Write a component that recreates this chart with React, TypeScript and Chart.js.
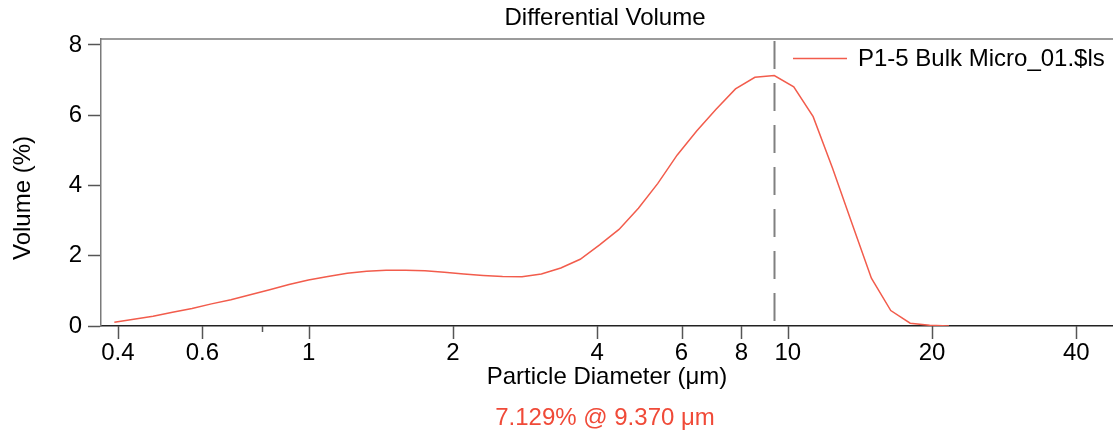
import React, { useEffect, useRef } from 'react';
import { Chart, registerables } from 'chart.js';

Chart.register(...registerables);

// Bin-centre particle diameters (µm)
const diameters = [
  0.3931, 0.4315, 0.4735, 0.5199, 0.5709, 0.6268, 0.6883, 0.7552, 0.8291, 0.91,
  0.9989, 1.0968, 1.2037, 1.3215, 1.4509, 1.5928, 1.7486, 1.9194, 2.1072, 2.313,
  2.5387, 2.787, 3.0597, 3.3589, 3.687, 4.0471, 4.4427, 4.8772, 5.3542, 5.8776,
  6.452, 7.0828, 7.7755, 8.5358, 9.3698, 10.287, 11.293, 12.396, 13.61, 14.939,
  16.397, 18.0, 19.759, 21.691,
];
// Differential volume (%)
const volumes = [
  0.11, 0.19, 0.28, 0.39, 0.5, 0.63, 0.75, 0.89, 1.03, 1.18,
  1.31, 1.41, 1.5, 1.56, 1.59, 1.59, 1.57, 1.53, 1.48, 1.44,
  1.41, 1.4, 1.48, 1.65, 1.9, 2.31, 2.75, 3.35, 4.06, 4.87,
  5.55, 6.17, 6.75, 7.08, 7.129, 6.81, 5.96, 4.49, 2.92, 1.36,
  0.44, 0.08, 0.02, 0.0,
];

const xTickValues = [0.4, 0.6, 0.8, 1, 2, 4, 6, 8, 10, 20, 40];
const xTickLabels = ['0.4', '0.6', '', '1', '2', '4', '6', '8', '10', '20', '40'];
const yTickValues = [0, 2, 4, 6, 8];

const peakDiameter = 9.37;
const peakLabel = '7.129% @ 9.370 μm';
const seriesName = 'P1-5 Bulk Micro_01.$ls';
const chartTitle = 'Differential Volume';
const xTitle = 'Particle Diameter (μm)';
const yTitle = 'Volume (%)';

const FONT = "'Liberation Sans', Arial, sans-serif";
const LINE_COLOR = '#f25c4c';
const RED_TEXT = '#f04a38';

export default function App() {
  const ref = useRef<HTMLCanvasElement | null>(null);

  useEffect(() => {
    const canvas = ref.current;
    if (!canvas) return;

    const overlay = {
      id: 'overlay',
      afterDatasetsDraw(chart: any) {
        const { ctx, chartArea } = chart;
        const xs = chart.scales.x;
        ctx.save();
        const px = Math.round(xs.getPixelForValue(peakDiameter)) + 0.5;
        ctx.strokeStyle = '#808080';
        ctx.lineWidth = 2;
        ctx.setLineDash([28, 14]);
        ctx.beginPath();
        ctx.moveTo(px, chartArea.top + 2);
        ctx.lineTo(px, chartArea.bottom);
        ctx.stroke();
        ctx.setLineDash([]);
        ctx.restore();
      },
      afterDraw(chart: any) {
        const { ctx, chartArea } = chart;
        const xs = chart.scales.x;
        ctx.save();
        // top frame line
        ctx.strokeStyle = '#7a7a7a';
        ctx.lineWidth = 1.5;
        ctx.beginPath();
        ctx.moveTo(chartArea.left, chartArea.top);
        ctx.lineTo(chartArea.right, chartArea.top);
        ctx.stroke();
        // x tick marks
        ctx.strokeStyle = '#555';
        ctx.lineWidth = 1.5;
        xTickValues.forEach((v, i) => {
          const x = Math.round(xs.getPixelForValue(v)) + 0.5;
          const len = xTickLabels[i] === '' ? 6 : 13;
          ctx.beginPath();
          ctx.moveTo(x, chartArea.bottom);
          ctx.lineTo(x, chartArea.bottom + len);
          ctx.stroke();
        });
        const cx = (chartArea.left + chartArea.right) / 2;
        ctx.fillStyle = '#000';
        ctx.textAlign = 'center';
        ctx.textBaseline = 'middle';
        ctx.font = `24px ${FONT}`;
        ctx.fillText(chartTitle, cx - 2, 18);
        ctx.fillStyle = RED_TEXT;
        ctx.fillText(peakLabel, cx - 2, 418);
        ctx.fillStyle = '#000';
        ctx.save();
        ctx.translate(23, 198);
        ctx.rotate(-Math.PI / 2);
        ctx.fillText(yTitle, 0, 0);
        ctx.restore();
        // legend
        ctx.strokeStyle = LINE_COLOR;
        ctx.lineWidth = 1.5;
        ctx.beginPath();
        ctx.moveTo(793, 58.5);
        ctx.lineTo(847, 58.5);
        ctx.stroke();
        ctx.textAlign = 'left';
        ctx.fillStyle = '#000';
        ctx.fillText(seriesName, 858, 59);
        ctx.restore();
      },
    };

    const chart = new Chart(canvas, {
      type: 'line',
      data: {
        datasets: [
          {
            label: seriesName,
            data: diameters.map((d, i) => ({ x: d, y: volumes[i] })),
            borderColor: LINE_COLOR,
            borderWidth: 1.5,
            pointRadius: 0,
            tension: 0,
            fill: false,
          },
        ],
      },
      options: {
        responsive: false,
        animation: false,
        devicePixelRatio: 1,
        layout: { padding: { top: 39, left: 0, right: 0, bottom: 0 } },
        plugins: {
          legend: { display: false },
          title: { display: false },
          tooltip: { enabled: false },
        },
        scales: {
          x: {
            type: 'logarithmic',
            min: 0.3687,
            max: 47.7,
            afterFit: (s: any) => {
              s.height = 108;
            },
            afterBuildTicks: (s: any) => {
              s.ticks = xTickValues.map((v) => ({ value: v }));
            },
            ticks: {
              autoSkip: false,
              maxRotation: 0,
              padding: 13,
              color: '#000',
              font: { family: FONT, size: 24 },
              callback: (_v: any, i: number) => xTickLabels[i],
            },
            grid: { display: true, drawOnChartArea: false, drawTicks: false },
            border: { display: true, color: '#222', width: 1.5 },
            title: {
              display: true,
              text: xTitle,
              color: '#000',
              font: { family: FONT, size: 24 },
              padding: { top: 0, bottom: 42 },
            },
          },
          y: {
            min: 0,
            max: 8.17,
            afterFit: (s: any) => {
              s.width = 101;
            },
            afterBuildTicks: (s: any) => {
              s.ticks = yTickValues.map((v) => ({ value: v }));
            },
            ticks: {
              padding: 6,
              color: '#000',
              font: { family: FONT, size: 24 },
            },
            grid: {
              display: true,
              drawOnChartArea: false,
              drawTicks: true,
              tickLength: 13,
              tickColor: '#555',
              tickWidth: 1.5,
            },
            border: { display: true, color: '#7a7a7a', width: 1.5 },
          },
        },
      },
      plugins: [overlay],
    } as any);

    return () => chart.destroy();
  }, []);

  return (
    <div style={{ position: 'fixed', left: 0, top: 0, width: 1113, height: 434, background: '#fff' }}>
      <canvas ref={ref} width={1113} height={434} style={{ display: 'block', width: 1113, height: 434 }} />
    </div>
  );
}
